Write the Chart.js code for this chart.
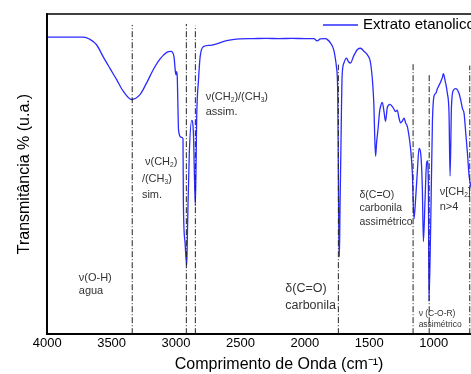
<!DOCTYPE html>
<html>
<head>
<meta charset="utf-8">
<script src="https://cdn.jsdelivr.net/npm/chart.js@4.4.1/dist/chart.umd.min.js"></script>
<style>
  html, body { margin: 0; padding: 0; overflow: hidden; background: #fff; }
  #wrap { width: 511px; height: 374px; }
</style>
</head>
<body>
<div id="wrap"><canvas id="ftir" width="511" height="374"></canvas></div>
<script>
// spectrum (cm-1, transmittance %)
const wavenumbers = [4000, 3850, 3721, 3669, 3617, 3566, 3514, 3461, 3410, 3345, 3280, 3228, 3177, 3125, 3072, 3039, 3016, 3005, 3000, 2995, 2990, 2982, 2975, 2969, 2956, 2946, 2943, 2930, 2917, 2910, 2897, 2878, 2865, 2850, 2839, 2826, 2813, 2788, 2735, 2606, 2500, 2400, 2300, 2200, 2100, 2000, 1930, 1905, 1880, 1840, 1825, 1802, 1776, 1763, 1755, 1745, 1740, 1736, 1732, 1727, 1720, 1711, 1696, 1677, 1660, 1646, 1620, 1590, 1568, 1540, 1516, 1490, 1472, 1464, 1458, 1451, 1443, 1433, 1420, 1412, 1399, 1386, 1374, 1360, 1340, 1314, 1296, 1283, 1270, 1257, 1244, 1230, 1218, 1205, 1192, 1179, 1166, 1153, 1140, 1127, 1114, 1101, 1088, 1080, 1067, 1057, 1049, 1041, 1037, 1023, 1010, 998, 984, 971, 959, 946, 932, 925, 912, 894, 881, 873, 862, 847, 829, 803, 790, 777, 764, 751, 738, 725, 712, 700, 690];
const transmittance = [92.8, 92.8, 92.8, 92.1, 90.4, 86.7, 83.1, 79.5, 75.9, 73.3, 74.8, 78.5, 82.6, 85.9, 88.0, 88.3, 86.7, 82.0, 81.0, 82.0, 80.0, 65.0, 62.5, 61.8, 61.5, 61.0, 41.0, 28.6, 21.4, 35.0, 56.5, 66.8, 62.7, 40.1, 68.9, 79.2, 86.6, 89.8, 90.2, 91.7, 92.2, 92.3, 92.4, 92.3, 92.4, 92.3, 92.3, 91.6, 92.2, 92.3, 92.0, 91.0, 88.8, 86.0, 83.5, 75.5, 50.0, 30.0, 24.2, 40.0, 58.7, 80.5, 84.8, 86.2, 85.0, 84.7, 87.0, 89.0, 89.3, 88.3, 87.3, 84.7, 77.4, 71.2, 62.0, 55.6, 60.0, 63.7, 69.5, 71.2, 72.4, 69.6, 66.5, 70.8, 71.8, 70.7, 69.5, 70.0, 67.6, 66.0, 66.5, 67.5, 66.0, 64.9, 62.0, 57.8, 50.5, 36.0, 42.5, 50.8, 58.0, 56.5, 45.3, 28.9, 42.2, 52.6, 54.1, 45.3, 10.3, 35.0, 66.2, 74.3, 75.2, 76.7, 77.7, 78.8, 80.3, 81.4, 79.3, 75.2, 68.9, 49.4, 71.1, 76.2, 76.7, 75.2, 73.1, 70.5, 68.9, 62.7, 56.5, 49.4, 46.3, 45.0, 50.0];

const xTicks = [4000, 3500, 3000, 2500, 2000, 1500, 1000, 500];

// dash-dot markers of the assigned bands
const bandPositions = [3340, 2920, 2850, 1740, 1160, 1035, 720];
const bandTops = [96.6, 96.9, 96.3, 84.2, 84.8, 81.4, 83.9];

// assignments: "_2" is drawn as a subscript
const notes = [
  { wn: 3755, t: [17.7, 13.4], lines: ['ν(O-H)', 'agua'], size: 11 },
  { wn: 3241, t: [53.7], lines: ['ν(CH_2)'], size: 11 },
  { wn: 3265, t: [48.4, 43.5], lines: ['/(CH_3)', 'sim.'], size: 11 },
  { wn: 2770, t: [74.2, 69.3], lines: ['ν(CH_2)/(CH_3)', 'assim.'], size: 11 },
  { wn: 2152, t: [14.3, 9.0], lines: ['δ(C=O)', 'carbonila'], size: 12.5 },
  { wn: 1576, t: [43.5, 39.4, 35.1], lines: ['δ(C=O)', 'carbonila', 'assimétrico'], size: 10.5 },
  { wn: 953, t: [44.4, 39.8], lines: ['ν[CH_2]', 'n>4'], size: 11 },
  { wn: 1117, t: [6.5, 3.1], lines: ['ν (C-O-R)', 'assimétrico'], size: 8.5 }
];

const FONT = 'Liberation Sans, Arial, sans-serif';
const BLUE = '#2b2bff';

function drawRich(ctx, text, x, y, size) {
  const parts = text.split(/_(\d)/);
  let cx = x;
  parts.forEach((p, i) => {
    if (!p) return;
    if (i % 2 === 1) {
      ctx.font = (size * 0.6) + 'px ' + FONT;
      ctx.fillText(p, cx, y + size * 0.3);
    } else {
      ctx.font = size + 'px ' + FONT;
      ctx.fillText(p, cx, y);
    }
    cx += ctx.measureText(p).width;
  });
}

const extras = {
  id: 'extras',
  afterDatasetsDraw(chart) {
    const { ctx, chartArea: a, scales: { x, y } } = chart;
    ctx.save();
    ctx.fillStyle = '#333';
    ctx.textBaseline = 'middle';
    ctx.textAlign = 'left';
    notes.forEach(n => {
      n.lines.forEach((s, i) => drawRich(ctx, s, x.getPixelForValue(n.wn), y.getPixelForValue(n.t[i]), n.size));
    });
    // frame
    ctx.strokeStyle = '#000';
    ctx.lineWidth = 1.5;
    ctx.strokeRect(a.left, a.top, a.right - a.left, a.bottom - a.top);
    // legend
    ctx.strokeStyle = BLUE;
    ctx.lineWidth = 1.5;
    ctx.beginPath();
    ctx.moveTo(323, 25);
    ctx.lineTo(358, 25);
    ctx.stroke();
    ctx.fillStyle = '#000';
    ctx.font = '15px ' + FONT;
    ctx.fillText('Extrato etanolico', 363, 25);
    ctx.restore();
  }
};

const bandSets = bandPositions.map((wn, i) => ({
  data: [{ x: wn, y: 0 }, { x: wn, y: bandTops[i] }],
  borderColor: '#222',
  borderWidth: 1,
  borderDash: [6, 2, 1, 2],
  pointRadius: 0
}));

new Chart(document.getElementById('ftir'), {
  type: 'line',
  data: {
    datasets: [
      ...bandSets,
      {
        label: 'Extrato etanolico',
        data: wavenumbers.map((w, i) => ({ x: w, y: transmittance[i] })),
        borderColor: BLUE,
        borderWidth: 1.3,
        pointRadius: 0,
        cubicInterpolationMode: 'monotone'
      }
    ]
  },
  options: {
    responsive: false,
    animation: false,
    layout: { padding: { top: 14, left: 0, right: 0, bottom: 0 } },
    plugins: { legend: { display: false }, tooltip: { enabled: false } },
    scales: {
      x: {
        type: 'linear',
        reverse: true,
        min: 400,
        max: 4000,
        afterBuildTicks: s => { s.ticks = xTicks.map(v => ({ value: v })); },
        ticks: { color: '#000', font: { size: 13, family: FONT }, padding: 1, maxRotation: 0, autoSkip: false, callback: v => String(v) },
        grid: { display: false, drawTicks: false, tickLength: 0 },
        border: { display: true, color: '#000', width: 1.5 },
        title: { display: true, text: 'Comprimento de Onda (cm⁻¹)', color: '#000', font: { size: 16, family: FONT }, padding: { top: 3, bottom: 0 } }
      },
      y: {
        min: 0,
        max: 100,
        ticks: { display: false },
        grid: { display: false, drawTicks: false, tickLength: 0 },
        border: { display: true, color: '#000', width: 1.5 },
        title: { display: true, text: 'Transmitância % (u.a.)', color: '#000', font: { size: 16, family: FONT }, padding: { top: 15, bottom: 13 } }
      }
    }
  },
  plugins: [extras]
});
</script>
</body>
</html>
